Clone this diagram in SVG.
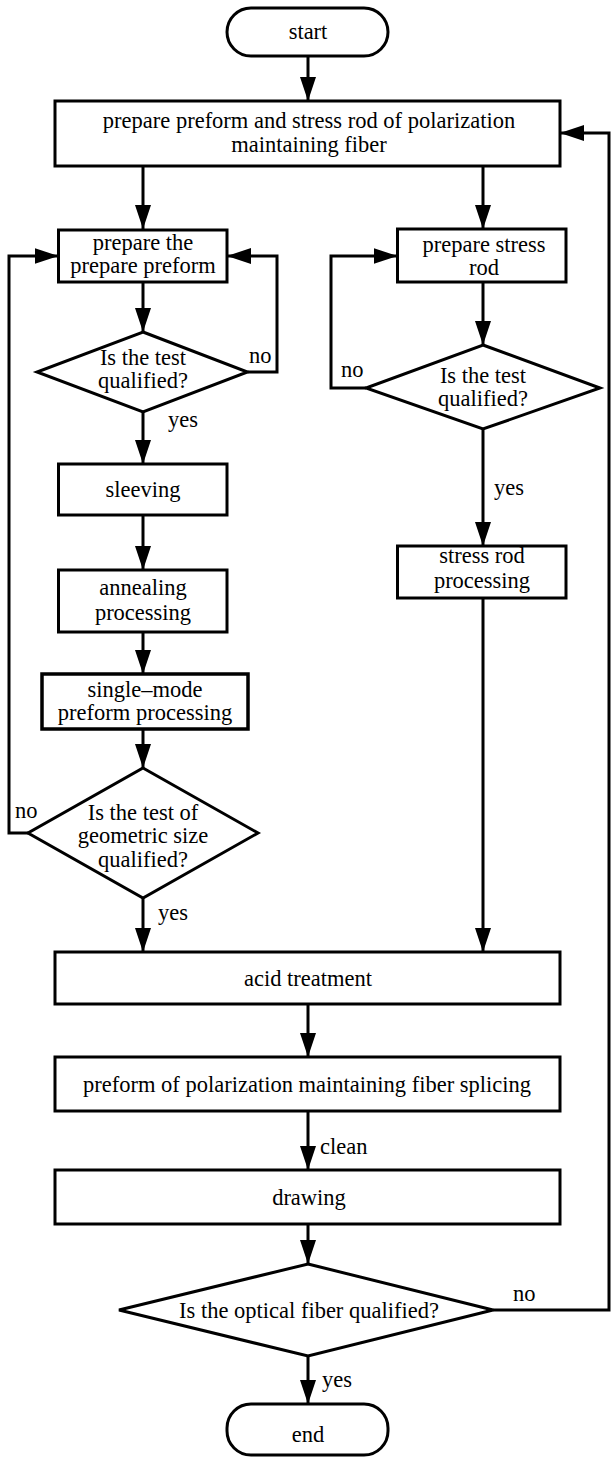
<svg xmlns="http://www.w3.org/2000/svg" width="611" height="1459" viewBox="0 0 611 1459">
<style>
.n{fill:#fff;stroke:#000;stroke-width:3}
.c{fill:none;stroke:#000;stroke-width:3;marker-end:url(#ah)}
.t{font-family:"Liberation Serif","Times New Roman",serif;font-size:22.5px;fill:#000;text-anchor:middle}
.l{font-family:"Liberation Serif","Times New Roman",serif;font-size:22.5px;fill:#000}
</style>
<defs>
<marker id="ah" markerUnits="userSpaceOnUse" markerWidth="24" markerHeight="16" refX="24" refY="8" orient="auto">
<path d="M0,0 L24,8 L0,16 z" fill="#000"/>
</marker>
</defs>
<rect width="611" height="1459" fill="#fff"/>
<g id="connectors">
<path class="c" d="M308,56 V101"/>
<path class="c" d="M143,166 V229"/>
<path class="c" d="M483,166 V229"/>
<path class="c" d="M143,282 V332"/>
<path class="c" d="M247.5,372 H277 V256 H227"/>
<path class="c" d="M143,412 V464"/>
<path class="c" d="M143,515 V570"/>
<path class="c" d="M143,632 V674"/>
<path class="c" d="M143,729 V768"/>
<path class="c" d="M28,833 H9 V256 H58.5"/>
<path class="c" d="M143,898 V952"/>
<path class="c" d="M483,282 V345"/>
<path class="c" d="M366,388 H331 V256 H397.5"/>
<path class="c" d="M483,429 V546"/>
<path class="c" d="M483,598 V952"/>
<path class="c" d="M308,1004 V1057"/>
<path class="c" d="M308,1111 V1170"/>
<path class="c" d="M308,1224 V1264"/>
<path class="c" d="M493,1310 H609 V133 H560"/>
<path class="c" d="M308,1356 V1404"/>
<text class="l" x="249" y="363">no</text>
<text class="l" x="168" y="427">yes</text>
<text class="l" x="341" y="377">no</text>
<text class="l" x="494" y="495">yes</text>
<text class="l" x="15" y="818">no</text>
<text class="l" x="158" y="920">yes</text>
<text class="l" x="320" y="1154">clean</text>
<text class="l" x="513" y="1301">no</text>
<text class="l" x="322" y="1387">yes</text>
</g>
<g id="start">
<rect class="n" x="227" y="8" width="161" height="48" rx="24"/>
<text class="t" x="308" y="39">start</text>
</g>
<g id="prepare-all">
<rect class="n" x="55" y="101" width="505" height="65"/>
<text class="t" x="309" y="128">prepare preform and stress rod of polarization</text>
<text class="t" x="309" y="152">maintaining fiber</text>
</g>
<g id="prepare-preform">
<rect class="n" x="58.5" y="230" width="168.5" height="52"/>
<text class="t" x="143" y="250">prepare the</text>
<text class="t" x="143" y="273">prepare preform</text>
</g>
<g id="test1">
<polygon class="n" points="143,332 247.5,372 143,412 37,372"/>
<text class="t" x="143" y="365">Is the test</text>
<text class="t" x="143" y="388">qualified?</text>
</g>
<g id="sleeving">
<rect class="n" x="58.5" y="464" width="168.5" height="51"/>
<text class="t" x="143" y="497">sleeving</text>
</g>
<g id="annealing">
<rect class="n" x="58.5" y="570" width="168.5" height="62"/>
<text class="t" x="143" y="595">annealing</text>
<text class="t" x="143" y="620">processing</text>
</g>
<g id="single-mode">
<rect class="n" x="42" y="674" width="206" height="55" style="stroke-width:3.5"/>
<text class="t" x="145" y="697">single–mode</text>
<text class="t" x="145" y="720">preform processing</text>
</g>
<g id="test-geometric">
<polygon class="n" points="143,768 258,833 143,898 28,833"/>
<text class="t" x="143" y="820">Is the test of</text>
<text class="t" x="143" y="843">geometric size</text>
<text class="t" x="143" y="867">qualified?</text>
</g>
<g id="prepare-stress">
<rect class="n" x="397.5" y="229" width="168.5" height="53"/>
<text class="t" x="484" y="252">prepare stress</text>
<text class="t" x="484" y="275">rod</text>
</g>
<g id="test2">
<polygon class="n" points="483,345 600,388 483,429 366,388"/>
<text class="t" x="483" y="383">Is the test</text>
<text class="t" x="483" y="406">qualified?</text>
</g>
<g id="stress-processing">
<rect class="n" x="397.5" y="546" width="168.5" height="52"/>
<text class="t" x="482" y="563">stress rod</text>
<text class="t" x="482" y="588">processing</text>
</g>
<g id="acid">
<rect class="n" x="55" y="952" width="505" height="52"/>
<text class="t" x="308" y="986">acid treatment</text>
</g>
<g id="splicing">
<rect class="n" x="55" y="1057" width="505" height="54"/>
<text class="t" x="307" y="1092">preform of polarization maintaining fiber splicing</text>
</g>
<g id="drawing">
<rect class="n" x="55" y="1170" width="505" height="54"/>
<text class="t" x="309" y="1205">drawing</text>
</g>
<g id="test-fiber">
<polygon class="n" points="308,1264 493,1310 308,1356 119,1310"/>
<text class="t" x="309" y="1318">Is the optical fiber qualified?</text>
</g>
<g id="end">
<rect class="n" x="227" y="1404" width="161" height="51" rx="24"/>
<text class="t" x="308" y="1442">end</text>
</g>
</svg>
